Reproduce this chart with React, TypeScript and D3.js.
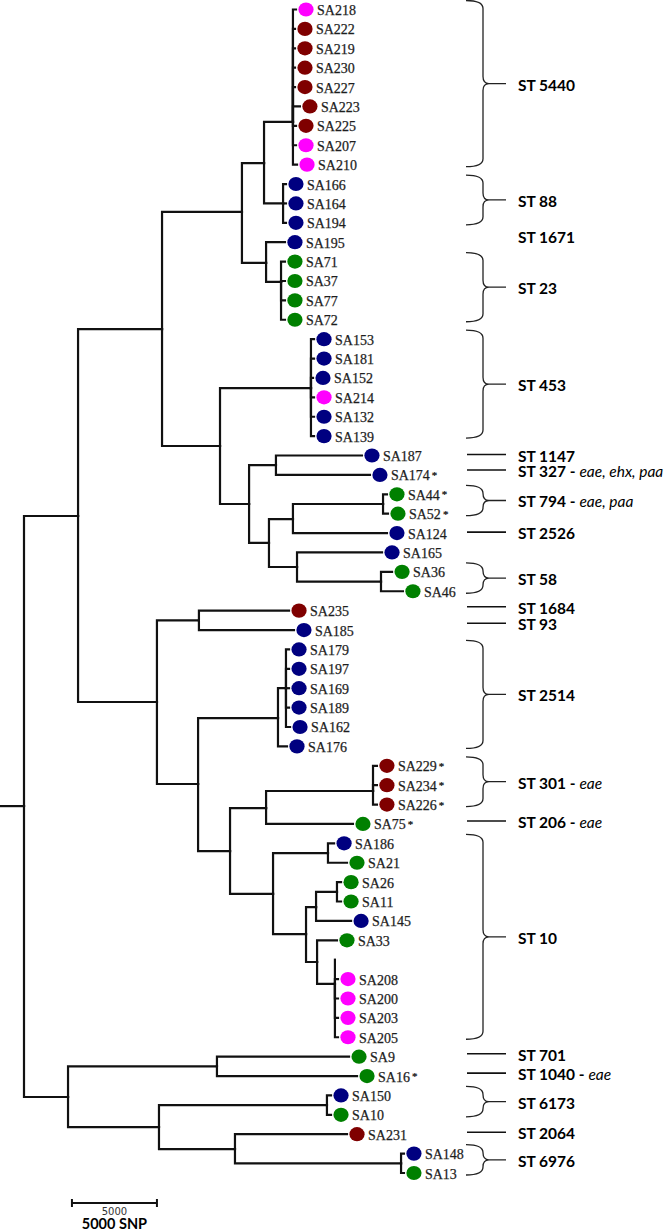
import React from 'react';
import * as d3 from 'd3';

const W = 667;
const H = 1231;

// isolate source categories -> colour
const sourceColors: Record<string, string> = {
  M: '#ff00ff',
  R: '#7f0000',
  B: '#000080',
  G: '#008000',
};

// internal nodes: [id, parent, distance from root (SNP), row position]
const internalNodes: [string, string | null, number, number][] = [
  ['root', null, 0, 41.08],
  ['A', 'root', 3180, 26.12],
  ['Z', 'root', 2590, 56.08],
  ['B', 'A', 8120, 16.48],
  ['C', 'A', 7820, 35.71],
  ['D', 'B', 12820, 10.44],
  ['E', 'B', 11530, 22.51],
  ['F', 'D', 14120, 7.92],
  ['G', 'D', 14240, 13.07],
  ['n5440', 'F', 15820, 5.8],
  ['n88', 'F', 15240, 10],
  ['H', 'G', 15120, 14.05],
  ['n453', 'E', 16880, 19.52],
  ['I', 'E', 13240, 25.5],
  ['J', 'I', 14820, 23.5],
  ['K', 'I', 14410, 27.51],
  ['L', 'K', 15820, 26.28],
  ['M', 'L', 21120, 25.5],
  ['N', 'K', 16060, 28.75],
  ['O', 'N', 21000, 29.5],
  ['P', 'C', 10290, 31.5],
  ['Q', 'C', 10240, 39.94],
  ['R', 'Q', 14940, 36.54],
  ['R1', 'R', 15410, 35],
  ['S', 'Q', 12120, 43.4],
  ['T', 'S', 14240, 41.18],
  ['n301', 'T', 20530, 40.3],
  ['U', 'S', 14650, 45.61],
  ['V', 'U', 17880, 43.5],
  ['W', 'U', 16590, 47.68],
  ['X', 'W', 17180, 46.29],
  ['X1', 'X', 18410, 45.5],
  ['Y', 'W', 17240, 49.12],
  ['Y2', 'Y', 18290, 50.25],
  ['Z1', 'Z', 11350, 54.5],
  ['Z2', 'Z', 7940, 57.63],
  ['Z3', 'Z2', 17820, 56.5],
  ['Z4', 'Z2', 12410, 58.77],
  ['Z5', 'Z4', 22180, 59.5],
];

// leaves: [name, row, parent, tip distance (SNP), source, marked with *]
const leaves: [string, number, string, number, string, boolean][] = [
  ['SA218', 0, 'n5440', 16000, 'M', false],
  ['SA222', 1, 'n5440', 15940, 'R', false],
  ['SA219', 2, 'n5440', 15940, 'R', false],
  ['SA230', 3, 'n5440', 15940, 'R', false],
  ['SA227', 4, 'n5440', 15940, 'R', false],
  ['SA223', 5, 'n5440', 16230, 'R', false],
  ['SA225', 6, 'n5440', 16000, 'R', false],
  ['SA207', 7, 'n5440', 16000, 'M', false],
  ['SA210', 8, 'n5440', 16060, 'M', false],
  ['SA166', 9, 'n88', 15410, 'B', false],
  ['SA164', 10, 'n88', 15410, 'B', false],
  ['SA194', 11, 'n88', 15410, 'B', false],
  ['SA195', 12, 'G', 15350, 'B', false],
  ['SA71', 13, 'H', 15350, 'G', false],
  ['SA37', 14, 'H', 15350, 'G', false],
  ['SA77', 15, 'H', 15350, 'G', false],
  ['SA72', 16, 'H', 15350, 'G', false],
  ['SA153', 17, 'n453', 17060, 'B', false],
  ['SA181', 18, 'n453', 17060, 'B', false],
  ['SA152', 19, 'n453', 17000, 'B', false],
  ['SA214', 20, 'n453', 17060, 'M', false],
  ['SA132', 21, 'n453', 17060, 'B', false],
  ['SA139', 22, 'n453', 17060, 'B', false],
  ['SA187', 23, 'J', 19880, 'B', false],
  ['SA174', 24, 'J', 20350, 'B', true],
  ['SA44', 25, 'M', 21350, 'G', true],
  ['SA52', 26, 'M', 21410, 'G', true],
  ['SA124', 27, 'L', 21350, 'B', false],
  ['SA165', 28, 'N', 21060, 'B', false],
  ['SA36', 29, 'O', 21650, 'G', false],
  ['SA46', 30, 'O', 22290, 'G', false],
  ['SA235', 31, 'P', 15590, 'R', false],
  ['SA185', 32, 'P', 15880, 'B', false],
  ['SA179', 33, 'R1', 15590, 'B', false],
  ['SA197', 34, 'R1', 15590, 'B', false],
  ['SA169', 35, 'R1', 15590, 'B', false],
  ['SA189', 36, 'R1', 15590, 'B', false],
  ['SA162', 37, 'R1', 15650, 'B', false],
  ['SA176', 38, 'R', 15470, 'B', false],
  ['SA229', 39, 'n301', 20760, 'R', true],
  ['SA234', 40, 'n301', 20760, 'R', true],
  ['SA226', 41, 'n301', 20760, 'R', true],
  ['SA75', 42, 'T', 19350, 'G', true],
  ['SA186', 43, 'V', 18240, 'B', false],
  ['SA21', 44, 'V', 19000, 'G', false],
  ['SA26', 45, 'X1', 18650, 'G', false],
  ['SA11', 46, 'X1', 18650, 'G', false],
  ['SA145', 47, 'X', 19240, 'B', false],
  ['SA33', 48, 'Y', 18410, 'G', false],
  ['', 49, 'Y2', 18290, '', false],
  ['SA208', 50, 'Y2', 18470, 'M', false],
  ['SA200', 51, 'Y2', 18470, 'M', false],
  ['SA203', 52, 'Y2', 18470, 'M', false],
  ['SA205', 53, 'Y2', 18470, 'M', false],
  ['SA9', 54, 'Z1', 19120, 'G', false],
  ['SA16', 55, 'Z1', 19590, 'G', true],
  ['SA150', 56, 'Z3', 18060, 'B', false],
  ['SA10', 57, 'Z3', 18060, 'G', false],
  ['SA231', 58, 'Z4', 19000, 'R', false],
  ['SA148', 59, 'Z5', 22350, 'B', false],
  ['SA13', 60, 'Z5', 22350, 'G', false],
];

// sequence types: [label, genes, first row, last row, kind]
const stGroups: [string, string, number, number, string][] = [
  ['ST 5440', '', 0, 8, 'brace'],
  ['ST 88', '', 9, 11, 'brace'],
  ['ST 1671', '', 11.7, 11.7, 'text'],
  ['ST 23', '', 13, 16, 'brace'],
  ['ST 453', '', 17, 22, 'brace'],
  ['ST 1147', '', 22.95, 22.95, 'line'],
  ['ST 327', 'eae, ehx, paa', 23.75, 23.75, 'line'],
  ['ST 794', 'eae, paa', 25, 26, 'brace'],
  ['ST 2526', '', 26.95, 26.95, 'line'],
  ['ST 58', '', 29, 30, 'brace'],
  ['ST 1684', '', 30.8, 30.8, 'line'],
  ['ST 93', '', 31.65, 31.65, 'line'],
  ['ST 2514', '', 33, 38, 'brace'],
  ['ST 301', 'eae', 39, 41, 'brace'],
  ['ST 206', 'eae', 41.85, 41.85, 'line'],
  ['ST 10', '', 43, 53, 'brace'],
  ['ST 701', '', 53.85, 53.85, 'line'],
  ['ST 1040', 'eae', 54.85, 54.85, 'line'],
  ['ST 6173', '', 56, 57, 'brace'],
  ['ST 2064', '', 57.9, 57.9, 'line'],
  ['ST 6976', '', 59, 60, 'brace'],
];

const scaleBarStart = 2820;
const scaleBarLength = 5000;
const scaleBarTick = '5000';
const scaleBarTitle = '5000 SNP';

const x = d3.scaleLinear().domain([0, 5000]).range([24, 109]);
const y = d3.scaleLinear().domain([0, 60]).range([9.5, 1173]);

const BR_LEFT = 466;
const BR_SPINE = 483;
const BR_TIP = 506;
const LABEL_X = 518;

function bracePath(top: number, bottom: number, mid: number) {
  const s = BR_SPINE;
  return (
    `M${BR_LEFT},${top} Q${s},${top} ${s},${top + 8} V${mid - 7} Q${s},${mid} ${s + 6},${mid} L${BR_TIP},${mid} ` +
    `M${s + 6},${mid} Q${s},${mid} ${s},${mid + 7} V${bottom - 8} Q${s},${bottom} ${BR_LEFT},${bottom}`
  );
}

export default function App() {
  const nodeMap = new Map<string, { snp: number; row: number }>();
  internalNodes.forEach(([id, , snp, row]) => nodeMap.set(id, { snp, row }));

  const edges: string[] = [];
  internalNodes.forEach(([id, parent, snp, row]) => {
    if (!parent) return;
    const p = nodeMap.get(parent)!;
    edges.push(`M${x(p.snp)},${y(p.row)}V${y(row)}H${x(snp)}`);
  });
  leaves.forEach(([, row, parent, tip]) => {
    const p = nodeMap.get(parent)!;
    edges.push(`M${x(p.snp)},${y(p.row)}V${y(row)}H${x(tip)}`);
  });
  const root = nodeMap.get('root')!;
  edges.push(`M0,${y(root.row)}H${x(root.snp)}`);

  const sx0 = x(scaleBarStart);
  const sx1 = x(scaleBarStart + scaleBarLength);
  const sy = 1203;

  return (
    <div style={{ position: 'absolute', left: 0, top: 0 }}>
      <svg width={W} height={H} style={{ display: 'block', background: '#fff' }}>
        <g fill="none" stroke="#111" strokeWidth={2.2} strokeLinecap="square">
          {edges.map((d, i) => (
            <path key={i} d={d} />
          ))}
        </g>
        {leaves.map(([name, row, , tip, src, star]) => {
          if (!name) return null;
          const cx = x(tip) + 10;
          const cy = y(row);
          return (
            <g key={name}>
              <ellipse cx={cx} cy={cy} rx={7.6} ry={7.1} fill={sourceColors[src]} />
              <text
                x={cx + 11}
                y={cy + 1}
                dominantBaseline="central"
                fontFamily="'Liberation Serif', 'DejaVu Serif', serif"
                fontSize={14}
                fill="#1e1e1e"
                stroke="#1e1e1e"
                strokeWidth={0.25}
              >
                {name}
                {star ? (
                  <tspan dx={2} fontSize={11} dy={-1}>
                    *
                  </tspan>
                ) : null}
              </text>
            </g>
          );
        })}
        {stGroups.map(([label, genes, first, last, kind]) => {
          let mid: number;
          let mark: React.ReactNode = null;
          if (kind === 'brace') {
            const top = y(first) - 9;
            const bottom = y(last) + 2;
            mid = (top + bottom) / 2;
            mark = <path d={bracePath(top, bottom, mid)} fill="none" stroke="#222" strokeWidth={1.3} />;
          } else {
            mid = y(first);
            if (kind === 'line')
              mark = <line x1={BR_LEFT + 1} x2={BR_TIP} y1={mid} y2={mid} stroke="#111" strokeWidth={1.6} />;
          }
          return (
            <g key={label}>
              {mark}
              <text
                x={LABEL_X}
                y={mid + 1}
                dominantBaseline="central"
                fontFamily="Lato, 'Open Sans', sans-serif"
                fontSize={15.5}
                fontWeight="bold"
                fill="#000"
              >
                {label}
                {genes ? (
                  <>
                    <tspan> - </tspan>
                    <tspan fontStyle="italic" fontWeight="normal">
                      {genes}
                    </tspan>
                  </>
                ) : null}
              </text>
            </g>
          );
        })}
        <g stroke="#111" strokeWidth={2}>
          <line x1={sx0} x2={sx1} y1={sy} y2={sy} />
          <line x1={sx0} x2={sx0} y1={sy - 4} y2={sy + 4} />
          <line x1={sx1} x2={sx1} y1={sy - 4} y2={sy + 4} />
        </g>
        <text
          x={(sx0 + sx1) / 2}
          y={1211}
          textAnchor="middle"
          dominantBaseline="central"
          fontFamily="'DejaVu Sans', sans-serif"
          fontSize={10}
          fill="#333"
        >
          {scaleBarTick}
        </text>
        <text
          x={(sx0 + sx1) / 2}
          y={1223}
          textAnchor="middle"
          dominantBaseline="central"
          fontFamily="Lato, sans-serif"
          fontSize={14.5}
          fontWeight="bold"
          fill="#000"
        >
          {scaleBarTitle}
        </text>
      </svg>
    </div>
  );
}
